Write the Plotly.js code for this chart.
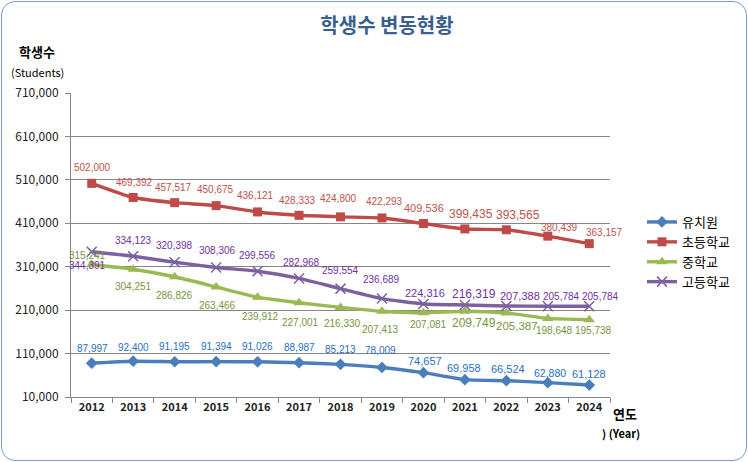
<!DOCTYPE html>
<html>
<head>
<meta charset="utf-8">
<script src="https://cdn.plot.ly/plotly-3.0.1.min.js"></script>
<style>
html,body{margin:0;padding:0;background:#fff;}
#wrap{position:relative;width:748px;height:462px;}
#chart{width:748px;height:462px;}
#frame{position:absolute;left:1px;top:1px;width:744px;height:458px;border:1px solid #7f9bc2;border-radius:14px;pointer-events:none;}
#err{position:absolute;left:100px;top:120px;color:#f00;font:12px sans-serif;}
</style>
</head>
<body>
<div id="wrap"><div id="chart"></div><div id="frame"></div><div id="err"></div></div>
<script>
// ---- data ----
const years = ['2012','2013','2014','2015','2016','2017','2018','2019','2020','2021','2022','2023','2024'];
const seriesNames = ['유치원','초등학교','중학교','고등학교'];

// plotted values (as read from point positions)
const kinder = [87997, 92400, 91195, 91394, 91026, 88987, 85213, 78009, 66000, 50000, 47500, 43000, 37500];
const elem   = [502000, 469392, 457517, 450675, 436121, 428333, 424800, 422293, 409536, 397000, 395000, 380439, 363157];
const middle = [315241, 304251, 286826, 263466, 239912, 227001, 216330, 207413, 204000, 207500, 203500, 191000, 188000];
const high   = [344391, 334123, 320398, 308306, 299556, 282968, 259554, 236689, 224316, 222000, 219500, 219000, 219000];

// data label texts (as printed on the chart)
const kinderLabels = ['87,997','92,400','91,195','91,394','91,026','88,987','85,213','78,009','74,657','69,958','66,524','62,880','61,128'];
const elemLabels   = ['502,000','469,392','457,517','450,675','436,121','428,333','424,800','422,293','409,536','399,435','393,565','380,439','363,157'];
const middleLabels = ['315,241','304,251','286,826','263,466','239,912','227,001','216,330','207,413','207,081','209.749','205,387','198,648','195,738'];
const highLabels   = ['344,391','334,123','320,398','308,306','299,556','282,968','259,554','236,689','224,316','216,319','207,388','205,784','205,784'];

// ---- label placement (pixel shifts) and sizes ----
const kinderShift = {dx:[1,0,0,0,0,0,0,-1,2,-1,2,2,0], dy:[15,14,15,15,15,15,15,17,12,12,12,10,11]};
const elemShift   = {dx:[1,1,-1,-1,-2,-2,-2,3,1,6,12,12,15], dy:[16,15,15,16,16,15,18,16,15,15,15,9,11]};
const middleShift = {dx:[-4,0,0,1,3,1,2,-1,5,9,11,7,4], dy:[9,-17,-19,-19,-19,-20,-16,-18,-12,-12,-13,-12,-11]};
const highShift   = {dx:[-4,0,0,1,0,2,0,0,2,9,14,14,11], dy:[-14,16,17,17,16,16,18,19,11,11,10,10,10]};
const kinderSizes = [10,10,10,10,10,10,10,10,11,11,11,10.5,11];
const elemSizes   = [10,10,10,10,10,10,10,10,11,12,12,10,10];
const middleSizes = [10,10,10,10,10,10,10,10,10,12,11.5,10,10];
const highSizes   = [10,10,10,10,10,10,10,10,11,12,11,10,10];

const colors = {kinder:'#4a7ebb', elem:'#be4b48', middle:'#98b954', high:'#7d60a0'};
const labelColors = {kinder:'#1f6fc0', elem:'#c0504d', middle:'#77933c', high:'#7030a0'};

function lineStyle(c){ return {color:c, width:3.4, shape:'spline', smoothing:0.5}; }
const traces = [
  {x:years, y:kinder, name:seriesNames[0], type:'scatter', mode:'lines+markers',
   line:lineStyle(colors.kinder), marker:{symbol:'diamond', size:9, color:colors.kinder}},
  {x:years, y:elem, name:seriesNames[1], type:'scatter', mode:'lines+markers',
   line:lineStyle(colors.elem), marker:{symbol:'square', size:9, color:colors.elem}},
  {x:years, y:middle, name:seriesNames[2], type:'scatter', mode:'lines+markers',
   line:lineStyle(colors.middle), marker:{symbol:'triangle-up', size:10, color:colors.middle}},
  {x:years, y:high, name:seriesNames[3], type:'scatter', mode:'lines+markers',
   line:lineStyle(colors.high),
   marker:{symbol:'x-thin', size:10, color:colors.high, line:{color:colors.high, width:1.5}}}
];

const labelFont = 'Liberation Sans, Arial, sans-serif';
function makeLabels(vals, texts, shift, sizes, color){
  return vals.map(function(v,i){
    return {x:i, y:v, xref:'x', yref:'y', text:texts[i], showarrow:false,
      xanchor:'center', yanchor:'middle',
      xshift:shift.dx[i], yshift:shift.dy[i],
      font:{family:labelFont, size:sizes[i], color:color}};
  });
}

const KR = 'Noto Sans CJK KR, Malgun Gothic, sans-serif';
// plot area: x 71..610, y 93..397
function px2x(p){ return (p-71)/539; }
function px2y(p){ return (397-p)/304; }
const annotations = []
  .concat(makeLabels(elem, elemLabels, elemShift, elemSizes, labelColors.elem))
  .concat(makeLabels(kinder, kinderLabels, kinderShift, kinderSizes, labelColors.kinder))
  .concat(makeLabels(middle, middleLabels, middleShift, middleSizes, labelColors.middle))
  .concat(makeLabels(high, highLabels, highShift, highSizes, labelColors.high))
  .concat([
    {xref:'paper', yref:'paper', x:px2x(37), y:px2y(52), xanchor:'center', yanchor:'middle',
     text:'<b>학생수</b>', showarrow:false, font:{family:KR, size:13, color:'#000'}},
    {xref:'paper', yref:'paper', x:px2x(37), y:px2y(72), xanchor:'center', yanchor:'middle',
     text:'(Students)', showarrow:false, font:{family:KR, size:11, color:'#000'}},
    {xref:'paper', yref:'paper', x:px2x(625), y:px2y(413), xanchor:'center', yanchor:'middle',
     text:'<b>연도</b>', showarrow:false, font:{family:KR, size:13, color:'#000'}},
    {xref:'paper', yref:'paper', x:px2x(621), y:px2y(433), xanchor:'center', yanchor:'middle',
     text:'<b>) (Year)</b>', showarrow:false, font:{family:KR, size:11, color:'#000'}}
  ]);

const layout = {
  width:748, height:462,
  margin:{l:71, r:138, t:93, b:65},
  paper_bgcolor:'#ffffff', plot_bgcolor:'#ffffff',
  title:{text:'학생수 변동현황', x:387/748, xref:'container', xanchor:'center',
         y:1-26/462, yref:'container', yanchor:'middle',
         font:{family:KR, size:20, weight:'bold', color:'#3a5f8f'}},
  showlegend:true,
  legend:{x:px2x(642), y:px2y(207), xanchor:'left', yanchor:'top',
          font:{family:KR, size:13, color:'#000'}, itemwidth:30, bgcolor:'rgba(0,0,0,0)'},
  xaxis:{type:'category', range:[-0.5,12.5], showline:true, linecolor:'#868686', linewidth:1,
         showgrid:false, ticks:'outside', tickson:'boundaries', ticklen:5, tickcolor:'#868686',
         tickfont:{family:KR, size:11, weight:'bold', color:'#222'}, zeroline:false, fixedrange:true},
  yaxis:{range:[10000,710000], tick0:10000, dtick:100000, tickformat:',d',
         showline:true, linecolor:'#868686', linewidth:1,
         showgrid:true, gridcolor:'#868686', gridwidth:1,
         ticks:'outside', ticklen:5, tickcolor:'#868686', ticklabelstandoff:4,
         tickfont:{family:KR, size:12, color:'#222'}, zeroline:false, fixedrange:true},
  annotations:annotations
};

try {
  Plotly.newPlot('chart', traces, layout, {displayModeBar:false, staticPlot:true})
    .catch(function(e){ document.getElementById('err').textContent = 'ERR ' + e; });
} catch(e) {
  document.getElementById('err').textContent = 'ERR ' + e;
}
</script>
</body>
</html>
